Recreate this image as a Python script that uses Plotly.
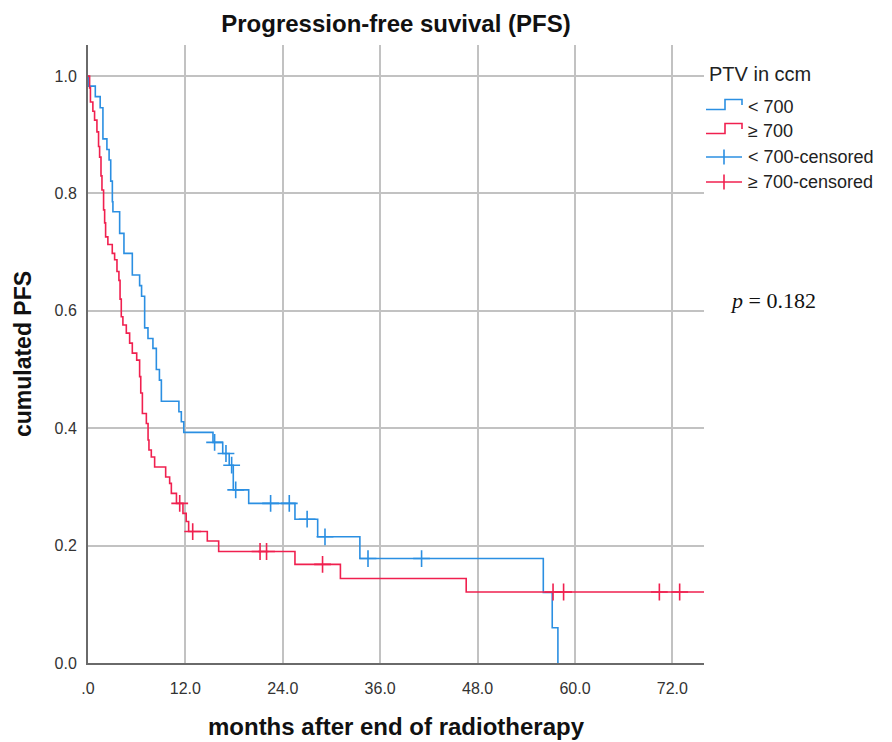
import plotly.graph_objects as go

# ---------------- data ----------------
blue_times = [0.1, 0.9, 1.5, 1.84, 2.33, 2.6, 2.8, 3.0, 3.07, 3.9, 4.43, 5.46, 6.36, 6.6, 6.98,
              7.39, 8.0, 8.42, 8.8, 9.04, 11.2, 11.5, 11.8, 15.4, 16.6, 17.4, 17.9, 19.8, 25.5,
              28.3, 33.5, 56.1, 57.2, 57.9]
blue_surv = [0.983, 0.965, 0.946, 0.893, 0.875, 0.857, 0.821, 0.786, 0.769, 0.732, 0.698, 0.661,
             0.643, 0.625, 0.571, 0.553, 0.536, 0.500, 0.482, 0.446, 0.428, 0.411, 0.393, 0.376,
             0.357, 0.337, 0.295, 0.272, 0.245, 0.215, 0.178, 0.120, 0.060, 0.0]
blue_cens_t = [15.6, 17.0, 17.7, 18.2, 22.5, 24.8, 27.0, 29.2, 34.5, 41.1]
blue_cens_s = [0.376, 0.357, 0.337, 0.295, 0.272, 0.272, 0.245, 0.215, 0.178, 0.178]

red_times = [0.2, 0.3, 0.6, 0.81, 1.1, 1.3, 1.43, 1.6, 1.72, 1.92, 2.05, 2.17, 2.45, 2.99, 3.28,
             3.57, 3.81, 3.95, 4.1, 4.3, 4.72, 5.13, 5.46, 6.0, 6.36, 6.5, 6.7, 7.19, 7.4, 7.51,
             7.8, 8.21, 9.57, 10.06, 10.27, 10.9, 11.7, 12.1, 12.4, 14.7, 16.1, 25.5, 31.1, 46.6]
red_surv = [0.98, 0.956, 0.94, 0.925, 0.905, 0.88, 0.862, 0.83, 0.806, 0.772, 0.75, 0.726, 0.713,
            0.698, 0.687, 0.667, 0.652, 0.62, 0.59, 0.576, 0.562, 0.545, 0.528, 0.516, 0.488,
            0.46, 0.425, 0.408, 0.38, 0.363, 0.351, 0.334, 0.317, 0.306, 0.289, 0.272, 0.255,
            0.241, 0.224, 0.208, 0.190, 0.168, 0.144, 0.121]
red_end = 75.9
red_cens_t = [11.3, 12.9, 21.2, 22.0, 28.9, 57.3, 58.6, 70.4, 72.9]
red_cens_s = [0.272, 0.224, 0.190, 0.190, 0.168, 0.121, 0.121, 0.121, 0.121]

x_ticks = [0, 12, 24, 36, 48, 60, 72]
x_tick_text = [".0", "12.0", "24.0", "36.0", "48.0", "60.0", "72.0"]
y_ticks = [0, 0.2, 0.4, 0.6, 0.8, 1.0]
y_tick_text = ["0.0", "0.2", "0.4", "0.6", "0.8", "1.0"]

legend_title = "PTV in ccm"
legend_labels = ["< 700", "\u2265 700", "< 700-censored", "\u2265 700-censored"]
p_text = "<i>p</i> = 0.182"

BLUE = "#2b8fe2"
RED = "#f0204f"
FONT = "Arial, Liberation Sans, sans-serif"

# ---------------- layout geometry (screen pixels; page body has an 8px margin) ----------------
OFF = 8
W, H = 892 - OFF, 742 - OFF
SL, SR, ST, SB = 88, 704, 45, 663
PW, PH = SR - SL, SB - ST


def px(x):
    return (x - SL) / PW


def py(y):
    return (SB - y) / PH


fig = go.Figure()

bx = [0] + blue_times
by = [1.0] + blue_surv
rx = [0] + red_times + [red_end]
ry = [1.0] + red_surv + [red_surv[-1]]

fig.add_trace(go.Scatter(x=bx, y=by, mode="lines", line=dict(color=BLUE, width=1.6, shape="hv"),
                         showlegend=False, hoverinfo="skip"))
fig.add_trace(go.Scatter(x=rx, y=ry, mode="lines", line=dict(color=RED, width=1.6, shape="hv"),
                         showlegend=False, hoverinfo="skip"))
fig.add_trace(go.Scatter(x=blue_cens_t, y=blue_cens_s, mode="markers",
                         marker=dict(symbol="cross-thin", size=12, line=dict(color=BLUE, width=1.6)),
                         showlegend=False, hoverinfo="skip"))
fig.add_trace(go.Scatter(x=red_cens_t, y=red_cens_s, mode="markers",
                         marker=dict(symbol="cross-thin", size=12, line=dict(color=RED, width=1.6)),
                         showlegend=False, hoverinfo="skip"))

# ---------------- manual legend ----------------
shapes = []
annotations = []
annotations.append(dict(x=px(707), y=py(74), xref="paper", yref="paper", text=legend_title,
                        showarrow=False, xanchor="left", yanchor="middle",
                        font=dict(family=FONT, size=20, color="#222222")))
item_y = [107, 131, 157, 182]
item_colors = [BLUE, RED, BLUE, RED]
for i, (lab, yc, col) in enumerate(zip(legend_labels, item_y, item_colors)):
    if i < 2:
        path = (f"M {px(706)},{py(yc + 2.5)} L {px(725)},{py(yc + 2.5)} L {px(725)},{py(yc - 7.5)} "
                f"L {px(742)},{py(yc - 7.5)} L {px(742)},{py(yc - 2)}")
        shapes.append(dict(type="path", path=path, xref="paper", yref="paper",
                           line=dict(color=col, width=1.6)))
    else:
        shapes.append(dict(type="line", x0=px(706), x1=px(742), y0=py(yc), y1=py(yc),
                           xref="paper", yref="paper", line=dict(color=col, width=1.6)))
        shapes.append(dict(type="line", x0=px(724), x1=px(724), y0=py(yc - 7.5), y1=py(yc + 7.5),
                           xref="paper", yref="paper", line=dict(color=col, width=1.6)))
    annotations.append(dict(x=px(746), y=py(yc), xref="paper", yref="paper", text=lab,
                            showarrow=False, xanchor="left", yanchor="middle",
                            font=dict(family=FONT, size=18, color="#222222")))

annotations.append(dict(x=px(728), y=py(300), xref="paper", yref="paper", text=p_text,
                        showarrow=False, xanchor="left", yanchor="middle",
                        font=dict(family="Liberation Serif, DejaVu Serif, serif", size=22,
                                  color="#111111")))

fig.update_layout(
    template="none",
    width=W, height=H,
    margin=dict(l=SL - OFF, r=W - (SR - OFF), t=ST - OFF, b=H - (SB - OFF), pad=0,
                autoexpand=False),
    paper_bgcolor="white", plot_bgcolor="white",
    title=dict(text="Progression-free suvival (PFS)", x=px(396), xref="paper",
               y=1 - (24 - OFF) / H, yref="container", xanchor="center", yanchor="middle",
               font=dict(family=FONT, size=24, color="#111111", weight="bold")),
    shapes=shapes,
    annotations=annotations,
    showlegend=False,
)

fig.update_xaxes(
    automargin=False,
    range=[0, 75.9], tickvals=x_ticks, ticktext=x_tick_text,
    showgrid=True, gridcolor="#c2c2c2", gridwidth=2,
    showline=True, linecolor="#6a6a6a", linewidth=2,
    ticks="outside", ticklen=10, tickcolor="rgba(0,0,0,0)",
    zeroline=False,
    tickfont=dict(family=FONT, size=16, color="#333333"),
    title=dict(text="months after end of radiotherapy", standoff=22,
               font=dict(family=FONT, size=24, color="#111111", weight="bold")),
)
fig.update_yaxes(
    automargin=False,
    range=[0, 1.053], tickvals=y_ticks, ticktext=y_tick_text,
    showgrid=True, gridcolor="#c2c2c2", gridwidth=2,
    showline=True, linecolor="#6a6a6a", linewidth=2,
    ticks="outside", ticklen=6, tickcolor="rgba(0,0,0,0)",
    zeroline=False,
    tickfont=dict(family=FONT, size=16, color="#333333"),
    title=dict(text="cumulated PFS", standoff=16,
               font=dict(family=FONT, size=23, color="#111111", weight="bold")),
)

fig.write_html("out.html")
